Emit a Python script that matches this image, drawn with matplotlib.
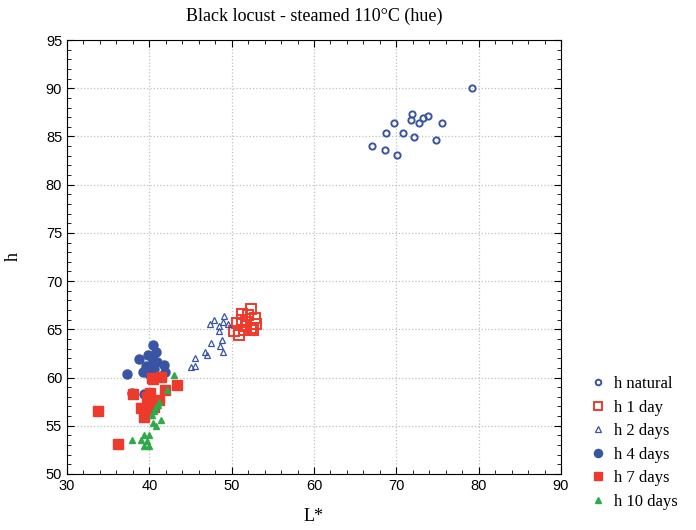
import numpy as np
import matplotlib
matplotlib.use("Agg")
import matplotlib.pyplot as plt
from matplotlib.ticker import MultipleLocator

# data (L*, h)
natural_L = [79.2, 67.0, 68.6, 70.1, 68.8, 69.7, 70.8, 71.9, 71.75, 72.1, 72.8, 73.2, 73.9, 74.8, 75.6]
natural_h = [90.0, 84.0, 83.6, 83.1, 85.4, 86.4, 85.4, 87.35, 86.7, 84.9, 86.4, 86.9, 87.1, 84.6, 86.4]

day1_L = [52.3, 51.3, 52.0, 52.8, 50.7, 51.8, 53.0, 52.3, 51.5, 50.3, 52.6, 50.9, 51.7, 51.3]
day1_h = [67.1, 66.6, 66.5, 66.2, 65.7, 65.8, 65.6, 65.1, 64.9, 64.8, 64.9, 64.4, 65.3, 66.0]

day2_L = [49.1, 47.9, 47.4, 48.95, 49.5, 48.5, 48.5, 47.5, 48.8, 48.6, 49.0, 46.8, 47.05, 45.5, 45.5, 45.1]
day2_h = [66.4, 66.0, 65.6, 65.75, 65.6, 65.3, 64.8, 63.6, 63.9, 63.3, 62.6, 62.6, 62.3, 62.0, 61.2, 61.1]

day4_L = [40.4, 40.8, 38.8, 39.8, 40.4, 40.9, 40.1, 41.8, 39.2, 37.3, 40.6, 41.9, 40.0, 39.6, 37.9, 39.4, 40.6]
day4_h = [63.4, 62.7, 61.9, 62.3, 61.8, 61.6, 61.2, 61.3, 60.6, 60.4, 60.9, 60.6, 60.4, 61.2, 58.4, 58.3, 60.2]

day7_L = [40.5, 41.4, 43.4, 38.0, 40.1, 41.9, 41.2, 39.7, 33.8, 39.0, 40.1, 39.5, 40.6, 39.3, 36.2, 40.3, 39.8, 40.0]
day7_h = [59.9, 60.1, 59.2, 58.3, 58.4, 58.7, 57.7, 58.0, 56.5, 56.8, 57.3, 56.7, 56.9, 55.9, 53.1, 60.0, 56.3, 57.8]

day10_L = [43.0, 42.2, 41.1, 40.7, 40.3, 41.4, 40.4, 40.8, 37.9, 39.4, 40.0, 39.0, 39.7, 39.3, 39.9, 40.6, 41.2]
day10_h = [60.3, 58.7, 57.2, 56.8, 56.1, 55.6, 55.3, 55.0, 53.5, 54.0, 54.0, 53.5, 53.4, 52.9, 52.9, 56.5, 57.5]

blue = '#3a54a4'
red = '#ee3a2c'
green = '#2eaa4a'
serif = 'Liberation Serif'
sans = 'Liberation Sans'

fig = plt.figure(figsize=(6.96, 5.30), dpi=100)
ax = fig.add_axes([0.0963, 0.1057, 0.7097, 0.8188])

ax.plot(natural_L, natural_h, 'o', ms=4.5, mfc='none', mec=blue, mew=1.4, label='h natural')
ax.plot(day1_L, day1_h, 's', ms=6.5, mfc='none', mec=red, mew=1.4, label='h 1 day')
ax.plot(day2_L, day2_h, '^', ms=5, mfc='none', mec=blue, mew=0.9, label='h 2 days')
ax.plot(day4_L, day4_h, 'o', ms=6.5, color=blue, mec=blue, label='h 4 days')
ax.plot(day7_L, day7_h, 's', ms=6.5, color=red, mec=red, label='h 7 days')
ax.plot(day10_L, day10_h, '^', ms=5, color=green, mec=green, label='h 10 days')

ax.set_xlim(30, 90)
ax.set_ylim(50, 95)
ax.xaxis.set_major_locator(MultipleLocator(10))
ax.xaxis.set_minor_locator(MultipleLocator(2))
ax.yaxis.set_major_locator(MultipleLocator(5))
ax.yaxis.set_minor_locator(MultipleLocator(1))
ax.tick_params(which='both', direction='in', top=True, right=True, labelsize=10.5)
ax.tick_params(which='major', length=5)
ax.tick_params(which='minor', length=3)
for lab in ax.get_xticklabels() + ax.get_yticklabels():
    lab.set_fontfamily(sans)
ax.grid(True, which='major', linestyle=':', color='#c0c0c0', linewidth=0.9)

ax.set_title('Black locust - steamed 110°C (hue)', fontfamily=serif, fontsize=13, pad=14)
ax.set_xlabel('L*', fontfamily=serif, fontsize=13, labelpad=11)
ax.set_ylabel('h', fontfamily=serif, fontsize=13, labelpad=17)

fig.legend(loc='lower left', bbox_to_anchor=(0.825, 0.01), frameon=False,
           prop={'family': serif, 'size': 12}, handletextpad=0.5, labelspacing=0.45,
           handlelength=1.0, markerscale=0.9)

fig.savefig('out.png', dpi=100)
